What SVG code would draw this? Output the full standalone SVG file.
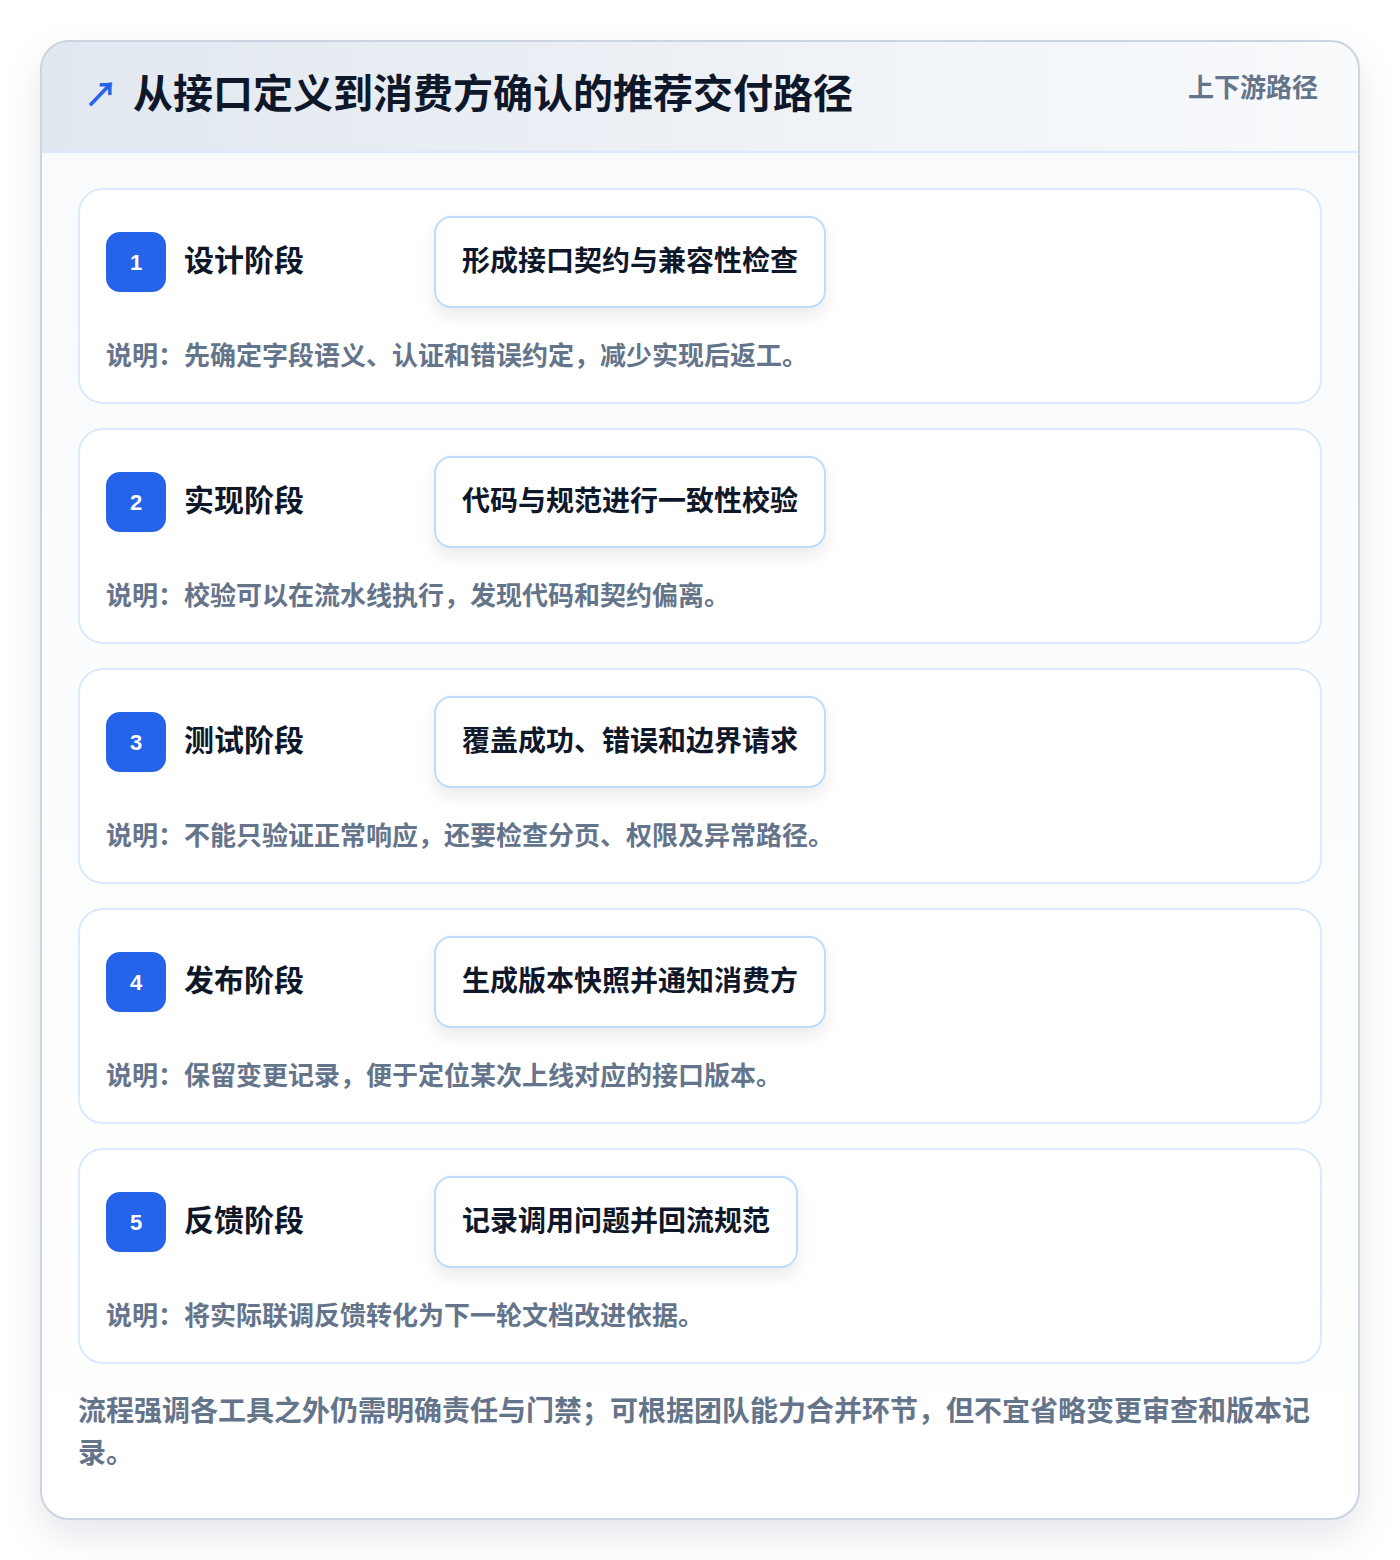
<svg xmlns="http://www.w3.org/2000/svg" width="1400" height="1560" viewBox="0 0 1400 1560">
<defs>
<linearGradient id="hdr" x1="0" y1="0" x2="1" y2="0">
<stop offset="0" stop-color="#e2e8f0"/>
<stop offset="1" stop-color="#f8fafc"/>
</linearGradient>
<linearGradient id="body" x1="0" y1="0" x2="0" y2="1">
<stop offset="0" stop-color="#f8fafc"/>
<stop offset="1" stop-color="#ffffff"/>
</linearGradient>
<filter id="sh" x="-10%" y="-10%" width="120%" height="120%">
<feDropShadow dx="0" dy="16" stdDeviation="18" flood-color="#0f172a" flood-opacity="0.10"/>
</filter>
<filter id="psh" x="-20%" y="-30%" width="140%" height="170%">
<feDropShadow dx="0" dy="8" stdDeviation="8" flood-color="#0f172a" flood-opacity="0.08"/>
</filter>
<clipPath id="cardclip"><rect x="41" y="41" width="1318" height="1478" rx="28"/></clipPath>
</defs>
<style>
text{font-family:"Noto Sans CJK SC","Liberation Sans",sans-serif;}
.card{fill:#ffffff;stroke:#dbeafe;stroke-width:2;}
.badge{fill:#2563eb;}
.num{fill:#ffffff;font-size:22px;font-weight:700;font-family:"Liberation Sans","Noto Sans CJK SC",sans-serif;text-anchor:middle;}
.stage{fill:#0f172a;font-size:30px;font-weight:700;}
.pill{fill:#ffffff;stroke:#bfdbfe;stroke-width:2;}
.ptext{fill:#0f172a;font-size:28px;font-weight:700;}
.desc{fill:#64748b;font-size:26px;font-weight:600;}
.foot{fill:#64748b;font-size:28px;font-weight:600;}
</style>
<rect width="1400" height="1560" fill="#ffffff"/>
<g id="frame">
<rect x="41" y="41" width="1318" height="1478" rx="28" fill="url(#body)" filter="url(#sh)"/>
<g clip-path="url(#cardclip)">
<rect x="41" y="41" width="1318" height="111" fill="url(#hdr)"/>
<line x1="41" y1="152" x2="1359" y2="152" stroke="#dbeafe" stroke-width="2"/>
</g>
<rect x="41" y="41" width="1318" height="1478" rx="28" fill="none" stroke="#cbd5e1" stroke-width="2"/>
</g>
<g id="header">
<text x="84" y="107" font-size="34" font-weight="700" fill="#2563eb" font-family="DejaVu Sans,sans-serif">↗</text>
<text x="133" y="108" font-size="40" font-weight="700" fill="#0f172a">从接口定义到消费方确认的推荐交付路径</text>
<text x="1318" y="97" font-size="26" font-weight="600" fill="#64748b" text-anchor="end">上下游路径</text>
</g>
<g id="step1">
<rect class="card" x="79" y="189" width="1242" height="214" rx="24"/>
<rect class="badge" x="106" y="232" width="60" height="60" rx="14"/>
<text class="num" x="136" y="270">1</text>
<text class="stage" x="184" y="271">设计阶段</text>
<rect class="pill" x="435" y="217" width="390" height="90" rx="16" filter="url(#psh)"/>
<text class="ptext" x="462" y="271">形成接口契约与兼容性检查</text>
<text class="desc" x="106" y="365">说明：先确定字段语义、认证和错误约定，减少实现后返工。</text>
</g>
<g id="step2">
<rect class="card" x="79" y="429" width="1242" height="214" rx="24"/>
<rect class="badge" x="106" y="472" width="60" height="60" rx="14"/>
<text class="num" x="136" y="510">2</text>
<text class="stage" x="184" y="511">实现阶段</text>
<rect class="pill" x="435" y="457" width="390" height="90" rx="16" filter="url(#psh)"/>
<text class="ptext" x="462" y="511">代码与规范进行一致性校验</text>
<text class="desc" x="106" y="605">说明：校验可以在流水线执行，发现代码和契约偏离。</text>
</g>
<g id="step3">
<rect class="card" x="79" y="669" width="1242" height="214" rx="24"/>
<rect class="badge" x="106" y="712" width="60" height="60" rx="14"/>
<text class="num" x="136" y="750">3</text>
<text class="stage" x="184" y="751">测试阶段</text>
<rect class="pill" x="435" y="697" width="390" height="90" rx="16" filter="url(#psh)"/>
<text class="ptext" x="462" y="751">覆盖成功、错误和边界请求</text>
<text class="desc" x="106" y="845">说明：不能只验证正常响应，还要检查分页、权限及异常路径。</text>
</g>
<g id="step4">
<rect class="card" x="79" y="909" width="1242" height="214" rx="24"/>
<rect class="badge" x="106" y="952" width="60" height="60" rx="14"/>
<text class="num" x="136" y="990">4</text>
<text class="stage" x="184" y="991">发布阶段</text>
<rect class="pill" x="435" y="937" width="390" height="90" rx="16" filter="url(#psh)"/>
<text class="ptext" x="462" y="991">生成版本快照并通知消费方</text>
<text class="desc" x="106" y="1085">说明：保留变更记录，便于定位某次上线对应的接口版本。</text>
</g>
<g id="step5">
<rect class="card" x="79" y="1149" width="1242" height="214" rx="24"/>
<rect class="badge" x="106" y="1192" width="60" height="60" rx="14"/>
<text class="num" x="136" y="1230">5</text>
<text class="stage" x="184" y="1231">反馈阶段</text>
<rect class="pill" x="435" y="1177" width="362" height="90" rx="16" filter="url(#psh)"/>
<text class="ptext" x="462" y="1231">记录调用问题并回流规范</text>
<text class="desc" x="106" y="1325">说明：将实际联调反馈转化为下一轮文档改进依据。</text>
</g>
<g id="connectors"></g>
<g id="footer">
<text class="foot" x="78" y="1421">流程强调各工具之外仍需明确责任与门禁；可根据团队能力合并环节，但不宜省略变更审查和版本记</text>
<text class="foot" x="78" y="1463">录。</text>
</g>
</svg>
